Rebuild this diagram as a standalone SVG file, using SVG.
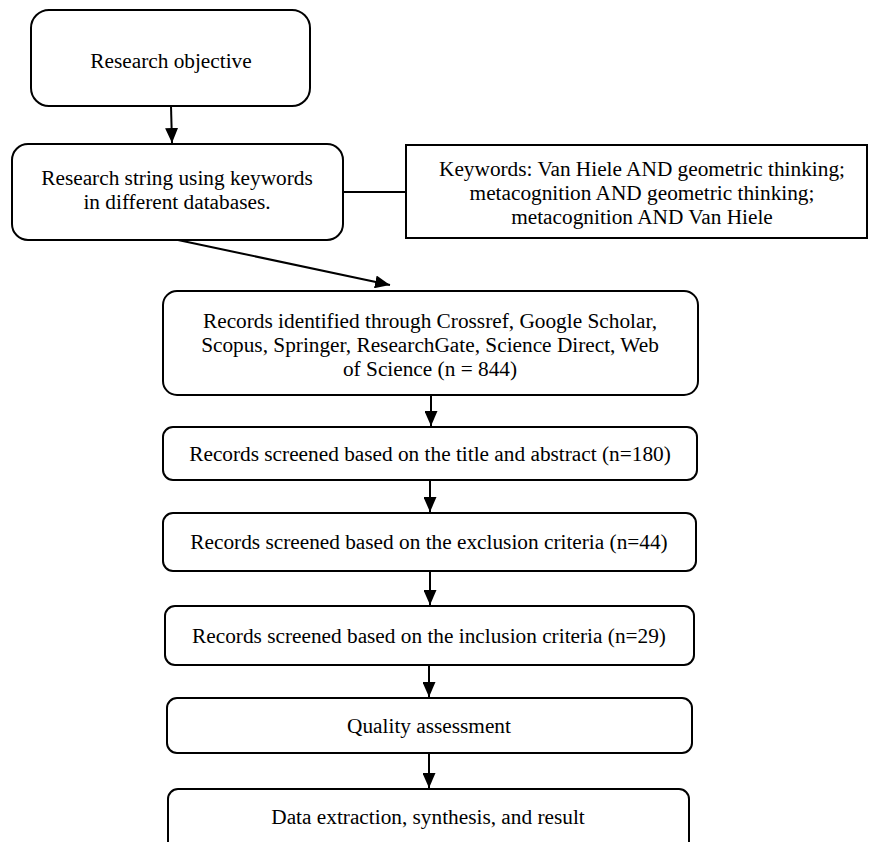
<svg xmlns="http://www.w3.org/2000/svg" width="869" height="842" viewBox="0 0 869 842">
<defs>
<marker id="ah" viewBox="0 0 15 13" refX="15" refY="6.5" markerWidth="15" markerHeight="13" markerUnits="userSpaceOnUse" orient="auto">
<path d="M0,0 L15,6.5 L0,13 Z" fill="#000"/>
</marker>
<style>
.box{fill:#fff;stroke:#000;stroke-width:2}
.t{font-family:"Liberation Serif","Times New Roman",serif;font-size:21.3px;fill:#000;text-anchor:middle}
.c{stroke:#000;stroke-width:2;fill:none}
</style>
</defs>
<rect width="869" height="842" fill="#fff"/>
<g id="connectors">
<line class="c" x1="171" y1="106" x2="172" y2="143" marker-end="url(#ah)"/>
<line class="c" x1="343" y1="192" x2="406" y2="192"/>
<line class="c" x1="178" y1="240" x2="390" y2="285" marker-end="url(#ah)"/>
<line class="c" x1="431" y1="395" x2="431" y2="426" marker-end="url(#ah)"/>
<line class="c" x1="430" y1="480" x2="430" y2="512" marker-end="url(#ah)"/>
<line class="c" x1="430" y1="571" x2="430" y2="605" marker-end="url(#ah)"/>
<line class="c" x1="429" y1="665" x2="429" y2="697" marker-end="url(#ah)"/>
<line class="c" x1="429" y1="753" x2="429" y2="788" marker-end="url(#ah)"/>
</g>
<g id="n1">
<rect class="box" x="31" y="10" width="279" height="96" rx="18"/>
<text class="t" x="171" y="68">Research objective</text>
</g>
<g id="n2">
<rect class="box" x="12" y="144" width="331" height="96" rx="16"/>
<text class="t" x="177" y="185">Research string using keywords</text>
<text class="t" x="177" y="209">in different databases.</text>
</g>
<g id="n3">
<rect class="box" x="406" y="145" width="461" height="93"/>
<text class="t" x="642" y="176">Keywords: Van Hiele AND geometric thinking;</text>
<text class="t" x="642" y="200">metacognition AND geometric thinking;</text>
<text class="t" x="642" y="224">metacognition AND Van Hiele</text>
</g>
<g id="n4">
<rect class="box" x="163" y="291" width="535" height="104" rx="14"/>
<text class="t" x="430" y="328">Records identified through Crossref, Google Scholar,</text>
<text class="t" x="430" y="352">Scopus, Springer, ResearchGate, Science Direct, Web</text>
<text class="t" x="430" y="376">of Science (n = 844)</text>
</g>
<g id="n5">
<rect class="box" x="163" y="427" width="534" height="53" rx="10"/>
<text class="t" x="430" y="461">Records screened based on the title and abstract (n=180)</text>
</g>
<g id="n6">
<rect class="box" x="163" y="513" width="533" height="58" rx="10"/>
<text class="t" x="429" y="549">Records screened based on the exclusion criteria (n=44)</text>
</g>
<g id="n7">
<rect class="box" x="165" y="606" width="529" height="59" rx="10"/>
<text class="t" x="429" y="643">Records screened based on the inclusion criteria (n=29)</text>
</g>
<g id="n8">
<rect class="box" x="167" y="698" width="525" height="55" rx="10"/>
<text class="t" x="429" y="733">Quality assessment</text>
</g>
<g id="n9">
<rect class="box" x="168" y="789" width="521" height="62" rx="10"/>
<text class="t" x="428" y="824">Data extraction, synthesis, and result</text>
</g>
</svg>
